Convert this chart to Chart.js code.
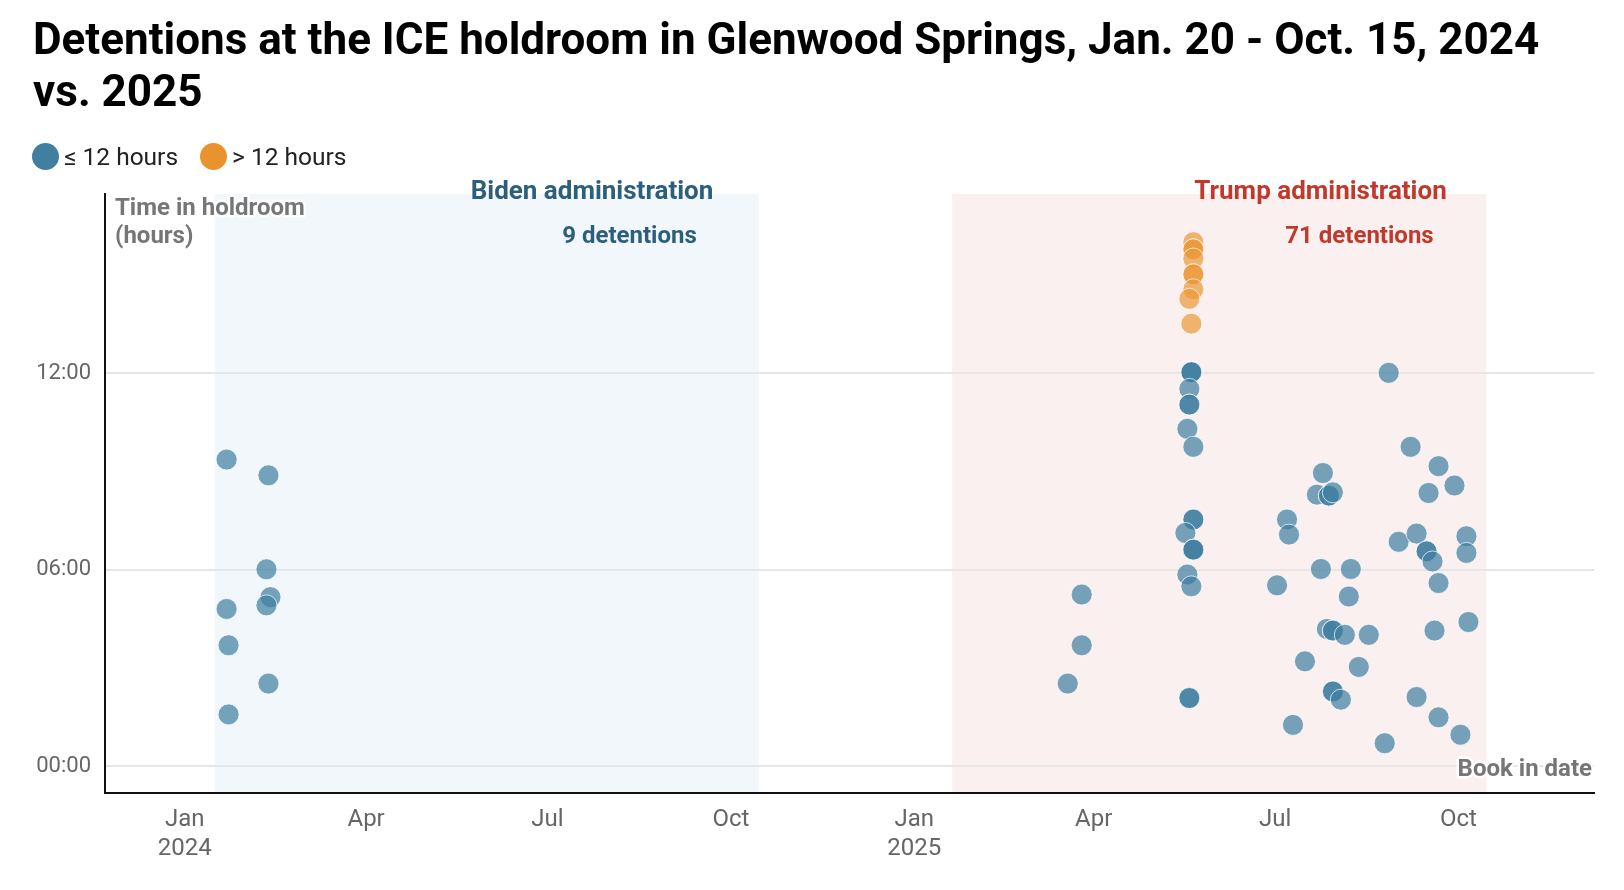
<!DOCTYPE html>
<html>
<head>
<meta charset="utf-8">
<script src="https://cdn.jsdelivr.net/npm/chart.js@4.4.1/dist/chart.umd.min.js"></script>
<style>
  body { margin: 0; background: #fff; font-family: Roboto, "Noto Sans", sans-serif; }
  #wrap { position: relative; width: 1624px; height: 890px; }
  #chart { position: absolute; left: 0; top: 0; }
  h1 { position: absolute; left: 33px; top: 13px; margin: 0; font-size: 44px; line-height: 52px; font-weight: 700; color: #000; }
  .legend { position: absolute; left: 32px; top: 142px; font-size: 24.5px; color: #222; display: flex; align-items: center; }
  .legend span.dot { display: inline-block; width: 27px; height: 27px; border-radius: 50%; margin-right: 5px; }
  .legend span.lbl { margin-right: 22px; }
</style>
</head>
<body>
<div id="wrap">
  <canvas id="chart" width="1624" height="890"></canvas>
  <h1>Detentions at the ICE holdroom in Glenwood Springs, Jan. 20 - Oct. 15, 2024<br>vs. 2025</h1>
  <div class="legend">
    <span class="dot" style="background:#417fa0"></span><span class="lbl">≤ 12 hours</span>
    <span class="dot" style="background:#e9932f"></span><span class="lbl">&gt; 12 hours</span>
  </div>
</div>
<script>
// Book in dates and time in holdroom (hours)
const shortDates = [
  // 2024 (Biden)
  "2024-01-22", "2024-02-12", "2024-02-11", "2024-02-13", "2024-02-11",
  "2024-01-22", "2024-01-23", "2024-02-12", "2024-01-23",
  // 2025 (Trump)
  "2025-03-19", "2025-03-26", "2025-03-26",
  "2025-05-20", "2025-05-20", "2025-05-20", "2025-05-19", "2025-05-19", "2025-05-19",
  "2025-05-18", "2025-05-21", "2025-05-21", "2025-05-21", "2025-05-17",
  "2025-05-21", "2025-05-21", "2025-05-21", "2025-05-18", "2025-05-20",
  "2025-05-19", "2025-05-19",
  "2025-07-02", "2025-07-07", "2025-07-08", "2025-07-10", "2025-07-16",
  "2025-07-22", "2025-07-24", "2025-07-25", "2025-07-27", "2025-07-28",
  "2025-07-28", "2025-07-30", "2025-07-30", "2025-07-30", "2025-07-30",
  "2025-07-30", "2025-08-03", "2025-08-05", "2025-08-07", "2025-08-08",
  "2025-08-12", "2025-08-17", "2025-08-25", "2025-08-27", "2025-09-01",
  "2025-09-07", "2025-09-10", "2025-09-10", "2025-09-15", "2025-09-15",
  "2025-09-16", "2025-09-18", "2025-09-19", "2025-09-21", "2025-09-21",
  "2025-09-21", "2025-09-29", "2025-10-02", "2025-10-05", "2025-10-05",
  "2025-10-06"
];
const shortHours = [
  9.36, 8.88, 6.01, 5.16, 4.91,
  4.80, 3.69, 2.52, 1.58,
  2.52, 3.69, 5.24,
  12.03, 12.03, 12.03, 11.52, 11.04, 11.04,
  10.30, 9.75, 7.53, 7.53, 7.12,
  6.61, 6.61, 6.61, 5.85, 5.49,
  2.08, 2.08,
  5.52, 7.53, 7.07, 1.26, 3.20,
  8.29, 6.02, 8.95, 4.19, 8.26,
  8.26, 4.14, 4.14, 2.28, 2.28,
  8.36, 2.03, 4.01, 5.18, 6.02,
  3.03, 4.01, 0.70, 12.01, 6.85,
  9.75, 7.10, 2.11, 6.56, 6.56,
  8.34, 6.25, 4.14, 9.16, 5.59,
  1.49, 8.57, 0.96, 7.02, 6.51,
  4.40
];
const longDates = [
  "2025-05-21", "2025-05-21", "2025-05-21", "2025-05-21", "2025-05-21",
  "2025-05-21", "2025-05-21", "2025-05-19", "2025-05-20"
];
const longHours = [16.00, 15.78, 15.78, 15.50, 15.02, 15.02, 14.56, 14.27, 13.51];

const periods = [
  { label: "Biden administration", count: "9 detentions", start: "2024-01-16", end: "2024-10-15", fill: "#f2f7fb", color: "#2c5f7c" },
  { label: "Trump administration", count: "71 detentions", start: "2025-01-20", end: "2025-10-15", fill: "#fbf0f0", color: "#c0392b" }
];
const yTicks = [0, 6, 12];
const xTickDates = ["2024-01-01", "2024-04-01", "2024-07-01", "2024-10-01",
                    "2025-01-01", "2025-04-01", "2025-07-01", "2025-10-01"];
const monthNames = ["Jan", "Feb", "Mar", "Apr", "May", "Jun", "Jul", "Aug", "Sep", "Oct", "Nov", "Dec"];

// days since Jan 1, 2024
function dayNum(s) {
  const p = s.split("-").map(Number);
  return (Date.UTC(p[0], p[1] - 1, p[2]) - Date.UTC(2024, 0, 1)) / 86400000;
}
function toPoints(dates, hours) {
  return dates.map((d, i) => ({ x: dayNum(d), y: hours[i] }));
}

// shaded periods behind the marks
const shadePlugin = {
  id: "shade",
  beforeDraw(chart) {
    const { ctx, chartArea, scales } = chart;
    ctx.save();
    periods.forEach(p => {
      const x1 = scales.x.getPixelForValue(dayNum(p.start));
      const x2 = scales.x.getPixelForValue(dayNum(p.end));
      ctx.fillStyle = p.fill;
      ctx.fillRect(x1, chartArea.top, x2 - x1, chartArea.bottom - chartArea.top);
    });
    ctx.restore();
  },
  afterDraw(chart) {
    const { ctx, chartArea } = chart;
    ctx.save();
    ctx.textBaseline = "middle";
    // period labels
    const spots = [[592, 629.5], [1320.5, 1359.5]];
    periods.forEach((p, i) => {
      ctx.fillStyle = p.color;
      ctx.textAlign = "center";
      ctx.font = "bold 26px Roboto";
      ctx.fillText(p.label, spots[i][0], 192);
      ctx.font = "bold 24px Roboto";
      ctx.fillText(p.count, spots[i][1], 237);
    });
    // axis titles with white halo
    function halo(text, x, y, align) {
      ctx.textAlign = align;
      ctx.font = "bold 24px Roboto";
      ctx.lineWidth = 5;
      ctx.strokeStyle = "rgba(255,255,255,0.9)";
      ctx.lineJoin = "round";
      ctx.strokeText(text, x, y);
      ctx.fillStyle = "#767676";
      ctx.fillText(text, x, y);
    }
    halo("Time in holdroom", chartArea.left + 10, 209, "left");
    halo("(hours)", chartArea.left + 10, 237, "left");
    halo("Book in date", chartArea.right - 2, 770, "right");
    ctx.restore();
  }
};

new Chart(document.getElementById("chart"), {
  type: "scatter",
  data: {
    datasets: [
      {
        label: "≤ 12 hours",
        data: toPoints(shortDates, shortHours),
        backgroundColor: "rgba(63,127,160,0.71)",
        borderColor: "rgba(255,255,255,0.7)",
        borderWidth: 1,
        pointRadius: 10.5,
        pointHoverRadius: 10.5
      },
      {
        label: "> 12 hours",
        data: toPoints(longDates, longHours),
        backgroundColor: "rgba(235,152,56,0.7)",
        borderColor: "rgba(255,255,255,0.7)",
        borderWidth: 1,
        pointRadius: 10.5,
        pointHoverRadius: 10.5
      }
    ]
  },
  options: {
    responsive: false,
    animation: false,
    devicePixelRatio: 1,
    layout: { padding: { top: 194, right: 30, left: 0, bottom: 0 } },
    plugins: { legend: { display: false }, tooltip: { enabled: false } },
    scales: {
      x: {
        type: "linear",
        min: dayNum("2023-11-22"),
        max: dayNum("2025-12-08"),
        afterBuildTicks(scale) {
          scale.ticks = xTickDates.map(d => ({ value: dayNum(d) }));
        },
        afterFit(scale) { scale.height = 97; },
        grid: { display: false },
        border: { display: true, color: "#111", width: 2 },
        ticks: {
          padding: 5,
          color: "#666",
          font: { family: "Roboto", size: 24, lineHeight: 1.2 },
          maxRotation: 0,
          callback(value) {
            const d = new Date(Date.UTC(2024, 0, 1) + value * 86400000);
            const m = monthNames[d.getUTCMonth()];
            return m === "Jan" ? [m, String(d.getUTCFullYear())] : m;
          }
        }
      },
      y: {
        min: -0.82,
        max: 17.47,
        afterBuildTicks(scale) {
          scale.ticks = yTicks.map(v => ({ value: v }));
        },
        afterFit(scale) { scale.width = 105; },
        grid: { color: "#e6e6e6", lineWidth: 2, drawTicks: false },
        border: { display: true, color: "#111", width: 2 },
        ticks: {
          padding: 14,
          color: "#666",
          font: { family: "Roboto", size: 22 },
          callback(value) {
            return String(value).padStart(2, "0") + ":00";
          }
        }
      }
    }
  },
  plugins: [shadePlugin]
});
</script>
</body>
</html>
